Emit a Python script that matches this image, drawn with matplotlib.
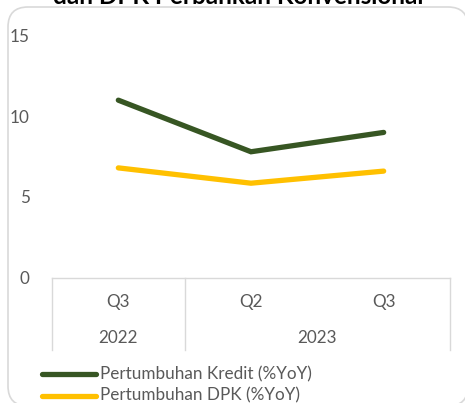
import matplotlib.pyplot as plt
from matplotlib.patches import FancyBboxPatch
from matplotlib.lines import Line2D

plt.rcParams['font.family'] = ['Lato', 'DejaVu Sans']

quarters = ["Q3", "Q2", "Q3"]
years = ["2022", "2023"]
year_spans = [(0, 1), (1, 3)]  # category index ranges covered by each year
kredit = [11.0, 7.8, 9.0]
dpk = [6.8, 5.85, 6.6]
series_names = ["Pertumbuhan Kredit (%YoY)", "Pertumbuhan DPK (%YoY)"]
series_colors = ["#375623", "#FFC000"]
title = "dan DPK Perbankan Konvensional"

W, H = 465, 403
TXT = "#595959"
GRID = "#D9D9D9"
FS = 12.3

fig = plt.figure(figsize=(W / 100, H / 100), dpi=100)

# rounded chart-area frame, sized in inches (1 in = 100 px here)
frame = FancyBboxPatch((0.08, -0.03), 4.60, 3.99,
                       boxstyle="round,pad=0,rounding_size=0.2",
                       transform=fig.dpi_scale_trans, facecolor="white",
                       edgecolor=GRID, linewidth=1.2, zorder=-5)
fig.add_artist(frame)

fig.text(238 / W, 1 - 4 / H, title, ha="center", va="baseline",
         fontsize=17.5, fontweight="bold", color="black")

left, right = 52 / W, 450 / W
bottom, top = 1 - 277.5 / H, 1 - 35.7 / H
ax = fig.add_axes([left, bottom, right - left, top - bottom])
ax.set_facecolor("none")

x = range(len(quarters))
for vals, color in zip([kredit, dpk], series_colors):
    ax.plot(x, vals, color=color, lw=3.8, solid_capstyle="round",
            solid_joinstyle="miter")

ax.set_xlim(-0.5, len(quarters) - 0.5)
ax.set_ylim(0, 15)
ax.set_yticks([0, 5, 10, 15])
ax.tick_params(axis="y", length=0, pad=16, labelsize=FS, labelcolor=TXT)
ax.set_xticks([])
for s in ["top", "right", "left"]:
    ax.spines[s].set_visible(False)
ax.spines["bottom"].set_color(GRID)
ax.spines["bottom"].set_linewidth(1)

# multi-level category axis drawn below the plot
trans = ax.get_xaxis_transform()
ax_h = (top - bottom) * H
to_ax = lambda px: -px / ax_h
for i, q in enumerate(quarters):
    ax.text(i, to_ax(24.5), q, transform=trans, ha="center", va="center",
            fontsize=FS, color=TXT, clip_on=False)
for yr, (a, b) in zip(years, year_spans):
    ax.text((a + b - 1) / 2, to_ax(60.5), yr, transform=trans, ha="center",
            va="center", fontsize=FS, color=TXT, clip_on=False)
edges = sorted({-0.5} | {b - 0.5 for _, b in year_spans})
for e in edges:
    ax.add_line(Line2D([e, e], [0, to_ax(72.5)], transform=trans,
                       color=GRID, lw=1, clip_on=False))

# legend
for k, (name, color) in enumerate(zip(series_names, series_colors)):
    ly = 1 - (374 + 21.7 * k) / H
    fig.add_artist(Line2D([42 / W, 96 / W], [ly, ly], color=color, lw=3.8,
                          solid_capstyle="round"))
    fig.text(100 / W, ly, name, ha="left", va="center", fontsize=FS,
             color=TXT)

fig.savefig("out.png", dpi=100)
